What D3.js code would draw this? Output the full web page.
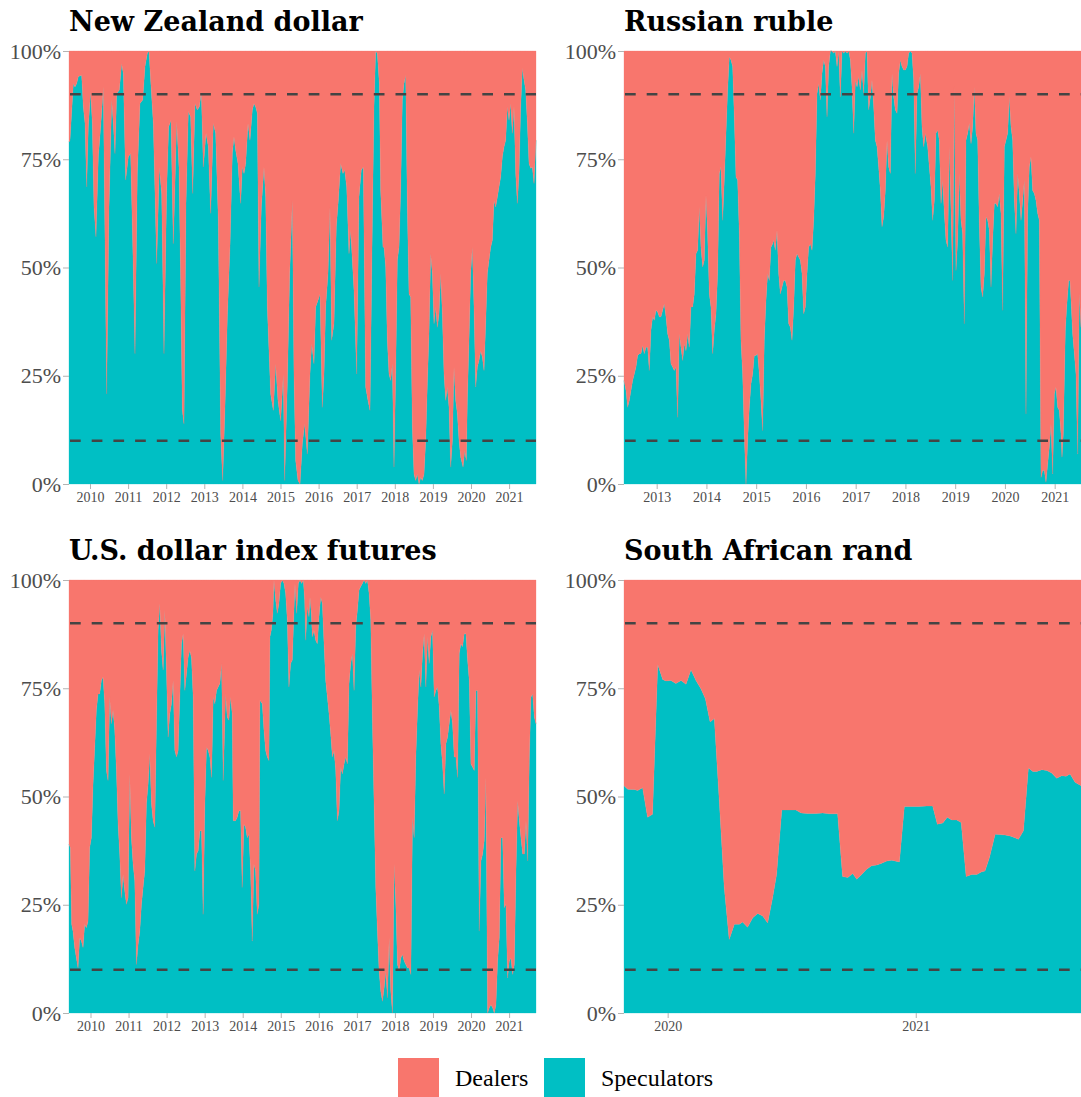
<!DOCTYPE html>
<html>
<head>
<meta charset="utf-8">
<script src="https://cdn.jsdelivr.net/npm/d3@7"></script>
<style>
body { margin: 0; background: #fff; }
</style>
</head>
<body>
<div id="chart"></div>
<script>
var width = 1081;
var height = 1097;
var dealerColor = "#F8766D";
var specColor = "#00BFC4";
var keys = ["Speculators", "Dealers"];
var legendKeys = ["Dealers", "Speculators"];
var bands = [0.1, 0.9];
var yTicks = [0, 0.25, 0.5, 0.75, 1];

// [year, speculators share]; dealers are the rest
var nzd = [[2009.449,0.79],[2009.475,0.794],[2009.563,0.925],[2009.606,0.917],[2009.650,0.925],[2009.694,0.941],[2009.781,0.944],[2009.825,0.871],[2009.869,0.833],[2009.913,0.686],[2009.956,0.825],[2010.017,0.906],[2010.061,0.833],[2010.105,0.640],[2010.157,0.571],[2010.219,0.756],[2010.280,0.825],[2010.350,0.917],[2010.394,0.563],[2010.437,0.208],[2010.499,0.640],[2010.569,0.887],[2010.612,0.833],[2010.656,0.763],[2010.700,0.902],[2010.770,0.910],[2010.831,0.971],[2010.875,0.948],[2010.936,0.702],[2011.006,0.756],[2011.067,0.763],[2011.120,0.563],[2011.181,0.301],[2011.242,0.717],[2011.312,0.879],[2011.382,0.887],[2011.444,0.964],[2011.505,0.995],[2011.549,1.0],[2011.592,0.933],[2011.662,0.833],[2011.750,0.509],[2011.820,0.732],[2011.881,0.671],[2011.942,0.301],[2012.012,0.678],[2012.065,0.825],[2012.126,0.840],[2012.187,0.555],[2012.275,0.837],[2012.336,0.732],[2012.380,0.470],[2012.423,0.170],[2012.467,0.139],[2012.520,0.648],[2012.581,0.860],[2012.642,0.848],[2012.695,0.671],[2012.756,0.879],[2012.817,0.864],[2012.870,0.871],[2012.922,0.906],[2012.975,0.732],[2013.045,0.810],[2013.106,0.779],[2013.167,0.625],[2013.237,0.833],[2013.298,0.810],[2013.368,0.609],[2013.430,0.116],[2013.482,0.008],[2013.543,0.177],[2013.605,0.386],[2013.675,0.55],[2013.736,0.763],[2013.779,0.802],[2013.823,0.771],[2013.884,0.740],[2013.954,0.648],[2013.998,0.732],[2014.042,0.717],[2014.086,0.740],[2014.147,0.833],[2014.199,0.794],[2014.261,0.864],[2014.304,0.879],[2014.348,0.871],[2014.392,0.856],[2014.436,0.455],[2014.497,0.640],[2014.567,0.732],[2014.611,0.663],[2014.654,0.409],[2014.742,0.208],[2014.812,0.170],[2014.873,0.278],[2014.934,0.193],[2015.004,0.146],[2015.074,0.254],[2015.109,0.008],[2015.179,0.231],[2015.241,0.486],[2015.311,0.655],[2015.354,0.254],[2015.398,0.054],[2015.459,0.008],[2015.512,0.0],[2015.573,0.093],[2015.634,0.139],[2015.704,0.069],[2015.774,0.254],[2015.818,0.324],[2015.879,0.278],[2015.923,0.409],[2015.984,0.424],[2016.037,0.439],[2016.098,0.177],[2016.142,0.254],[2016.185,0.409],[2016.247,0.486],[2016.299,0.640],[2016.343,0.332],[2016.404,0.370],[2016.465,0.594],[2016.518,0.655],[2016.579,0.740],[2016.640,0.717],[2016.684,0.725],[2016.737,0.686],[2016.798,0.532],[2016.842,0.586],[2016.929,0.447],[2016.999,0.254],[2017.060,0.663],[2017.121,0.725],[2017.174,0.732],[2017.235,0.224],[2017.296,0.193],[2017.349,0.170],[2017.410,0.601],[2017.454,0.871],[2017.498,1.0],[2017.541,0.995],[2017.594,0.925],[2017.629,0.678],[2017.690,0.547],[2017.717,0.547],[2017.761,0.501],[2017.804,0.332],[2017.848,0.254],[2017.892,0.239],[2017.936,0.278],[2017.979,0.039],[2018.023,0.254],[2018.067,0.517],[2018.111,0.547],[2018.154,0.678],[2018.198,0.887],[2018.242,0.925],[2018.286,0.944],[2018.329,0.640],[2018.373,0.439],[2018.417,0.432],[2018.461,0.131],[2018.504,0.023],[2018.548,0.008],[2018.592,0.023],[2018.636,0.0],[2018.679,0.015],[2018.723,0.008],[2018.767,0.023],[2018.811,0.100],[2018.854,0.231],[2018.898,0.347],[2018.942,0.532],[2018.986,0.486],[2019.029,0.370],[2019.073,0.409],[2019.117,0.362],[2019.161,0.393],[2019.204,0.486],[2019.248,0.393],[2019.292,0.254],[2019.336,0.193],[2019.379,0.224],[2019.423,0.177],[2019.467,0.039],[2019.511,0.100],[2019.554,0.270],[2019.598,0.193],[2019.642,0.162],[2019.686,0.100],[2019.729,0.062],[2019.791,0.039],[2019.834,0.077],[2019.878,0.054],[2019.904,0.193],[2019.948,0.332],[2019.992,0.486],[2020.035,0.547],[2020.079,0.409],[2020.123,0.224],[2020.167,0.270],[2020.210,0.285],[2020.254,0.308],[2020.298,0.293],[2020.342,0.262],[2020.385,0.370],[2020.429,0.486],[2020.473,0.517],[2020.517,0.547],[2020.560,0.563],[2020.604,0.655],[2020.648,0.640],[2020.692,0.663],[2020.735,0.686],[2020.779,0.709],[2020.823,0.756],[2020.867,0.779],[2020.910,0.794],[2020.954,0.871],[2020.998,0.840],[2021.041,0.879],[2021.085,0.810],[2021.129,0.871],[2021.173,0.717],[2021.217,0.648],[2021.260,0.717],[2021.304,0.871],[2021.348,0.960],[2021.392,0.933],[2021.435,0.910],[2021.479,0.833],[2021.523,0.740],[2021.567,0.729],[2021.610,0.732],[2021.654,0.694],[2021.706,0.794]];

var rub = [[2012.343,0.239],[2012.383,0.216],[2012.416,0.177],[2012.450,0.193],[2012.483,0.216],[2012.517,0.239],[2012.550,0.254],[2012.584,0.270],[2012.617,0.297],[2012.651,0.301],[2012.684,0.301],[2012.718,0.320],[2012.751,0.301],[2012.785,0.316],[2012.818,0.316],[2012.852,0.262],[2012.885,0.355],[2012.919,0.386],[2012.952,0.378],[2012.986,0.401],[2013.019,0.397],[2013.053,0.386],[2013.086,0.386],[2013.120,0.401],[2013.153,0.416],[2013.187,0.386],[2013.220,0.347],[2013.254,0.332],[2013.287,0.278],[2013.321,0.270],[2013.354,0.262],[2013.388,0.270],[2013.421,0.154],[2013.455,0.347],[2013.488,0.316],[2013.522,0.285],[2013.555,0.324],[2013.589,0.308],[2013.622,0.347],[2013.656,0.316],[2013.689,0.409],[2013.723,0.409],[2013.756,0.439],[2013.790,0.532],[2013.823,0.540],[2013.857,0.640],[2013.890,0.547],[2013.924,0.501],[2013.957,0.517],[2013.991,0.667],[2014.024,0.578],[2014.058,0.439],[2014.091,0.409],[2014.125,0.301],[2014.158,0.355],[2014.192,0.393],[2014.225,0.486],[2014.259,0.717],[2014.292,0.732],[2014.326,0.609],[2014.359,0.702],[2014.393,0.810],[2014.426,0.910],[2014.460,0.987],[2014.493,0.979],[2014.527,0.964],[2014.560,0.848],[2014.594,0.709],[2014.627,0.702],[2014.661,0.578],[2014.694,0.332],[2014.728,0.254],[2014.761,0.116],[2014.795,0.0],[2014.828,0.100],[2014.862,0.177],[2014.895,0.231],[2014.929,0.254],[2014.962,0.297],[2014.996,0.297],[2015.029,0.301],[2015.063,0.254],[2015.096,0.193],[2015.130,0.123],[2015.163,0.332],[2015.197,0.424],[2015.230,0.486],[2015.264,0.470],[2015.297,0.547],[2015.331,0.555],[2015.352,0.563],[2015.385,0.540],[2015.419,0.586],[2015.452,0.486],[2015.486,0.439],[2015.519,0.455],[2015.552,0.470],[2015.586,0.470],[2015.620,0.455],[2015.653,0.370],[2015.687,0.362],[2015.720,0.332],[2015.754,0.409],[2015.787,0.517],[2015.821,0.532],[2015.854,0.524],[2015.888,0.517],[2015.921,0.486],[2015.955,0.393],[2015.988,0.409],[2016.022,0.486],[2016.055,0.547],[2016.089,0.555],[2016.122,0.540],[2016.156,0.609],[2016.189,0.717],[2016.223,0.902],[2016.256,0.925],[2016.290,0.887],[2016.323,0.948],[2016.357,0.979],[2016.390,0.964],[2016.424,0.848],[2016.457,0.964],[2016.491,1.0],[2016.524,1.0],[2016.558,0.995],[2016.591,1.0],[2016.625,0.964],[2016.658,1.0],[2016.692,0.894],[2016.725,1.0],[2016.759,0.995],[2016.792,1.0],[2016.826,0.995],[2016.859,1.0],[2016.893,0.979],[2016.926,0.917],[2016.960,0.810],[2016.993,0.933],[2017.027,0.917],[2017.060,0.941],[2017.094,0.910],[2017.127,0.956],[2017.161,0.902],[2017.194,0.995],[2017.228,1.0],[2017.261,0.864],[2017.295,0.894],[2017.328,0.933],[2017.362,0.871],[2017.395,0.794],[2017.429,0.779],[2017.462,0.732],[2017.496,0.678],[2017.529,0.594],[2017.563,0.617],[2017.596,0.678],[2017.630,0.794],[2017.663,0.732],[2017.697,0.717],[2017.730,0.948],[2017.764,0.894],[2017.797,0.864],[2017.831,0.856],[2017.864,0.948],[2017.898,0.979],[2017.931,0.964],[2017.965,0.956],[2017.998,0.956],[2018.032,0.964],[2018.065,0.995],[2018.099,1.0],[2018.132,0.995],[2018.166,0.933],[2018.199,0.717],[2018.233,0.902],[2018.266,0.917],[2018.300,0.948],[2018.333,0.825],[2018.367,0.779],[2018.400,0.810],[2018.447,0.779],[2018.480,0.732],[2018.514,0.686],[2018.547,0.609],[2018.581,0.655],[2018.614,0.810],[2018.648,0.817],[2018.681,0.794],[2018.715,0.648],[2018.748,0.702],[2018.782,0.625],[2018.815,0.563],[2018.849,0.547],[2018.882,0.779],[2018.916,0.632],[2018.949,0.470],[2018.983,0.917],[2019.016,0.493],[2019.050,0.563],[2019.083,0.717],[2019.117,0.609],[2019.150,0.578],[2019.184,0.370],[2019.217,0.794],[2019.251,0.810],[2019.284,0.833],[2019.318,0.786],[2019.351,0.825],[2019.385,0.917],[2019.418,0.810],[2019.452,0.794],[2019.485,0.601],[2019.519,0.455],[2019.552,0.432],[2019.586,0.486],[2019.619,0.617],[2019.653,0.609],[2019.686,0.586],[2019.720,0.455],[2019.753,0.563],[2019.787,0.648],[2019.820,0.648],[2019.854,0.640],[2019.887,0.671],[2019.921,0.625],[2019.954,0.401],[2019.988,0.779],[2020.021,0.794],[2020.055,0.810],[2020.088,0.894],[2020.122,0.825],[2020.155,0.794],[2020.189,0.655],[2020.222,0.578],[2020.256,0.717],[2020.289,0.671],[2020.323,0.609],[2020.356,0.655],[2020.390,0.702],[2020.423,0.162],[2020.457,0.625],[2020.490,0.732],[2020.524,0.756],[2020.557,0.678],[2020.591,0.671],[2020.624,0.655],[2020.658,0.625],[2020.691,0.609],[2020.725,0.015],[2020.758,0.031],[2020.792,0.031],[2020.825,0.004],[2020.859,0.046],[2020.892,0.085],[2020.926,0.139],[2020.959,0.023],[2020.993,0.208],[2021.026,0.224],[2021.060,0.177],[2021.093,0.170],[2021.127,0.116],[2021.147,0.062],[2021.173,0.116],[2021.214,0.355],[2021.241,0.409],[2021.281,0.470],[2021.308,0.470],[2021.335,0.409],[2021.361,0.347],[2021.395,0.301],[2021.428,0.254],[2021.462,0.069],[2021.495,0.439],[2021.529,0.362]];

var dxy = [[2009.435,0.390],[2009.470,0.382],[2009.505,0.205],[2009.540,0.189],[2009.584,0.151],[2009.628,0.127],[2009.672,0.104],[2009.716,0.174],[2009.760,0.166],[2009.804,0.151],[2009.847,0.205],[2009.891,0.197],[2009.935,0.212],[2009.979,0.382],[2010.023,0.405],[2010.067,0.529],[2010.111,0.614],[2010.154,0.699],[2010.198,0.737],[2010.242,0.737],[2010.286,0.768],[2010.330,0.776],[2010.374,0.714],[2010.418,0.560],[2010.461,0.537],[2010.505,0.730],[2010.549,0.668],[2010.593,0.699],[2010.637,0.653],[2010.681,0.560],[2010.725,0.436],[2010.768,0.367],[2010.812,0.266],[2010.856,0.320],[2010.900,0.282],[2010.944,0.251],[2010.988,0.266],[2011.032,0.552],[2011.075,0.405],[2011.119,0.344],[2011.163,0.305],[2011.207,0.112],[2011.251,0.158],[2011.295,0.189],[2011.339,0.251],[2011.382,0.290],[2011.426,0.328],[2011.470,0.483],[2011.514,0.529],[2011.558,0.598],[2011.602,0.483],[2011.646,0.444],[2011.689,0.429],[2011.733,0.668],[2011.777,0.884],[2011.821,0.946],[2011.865,0.838],[2011.909,0.792],[2011.953,0.931],[2011.996,0.792],[2012.040,0.637],[2012.084,0.691],[2012.128,0.714],[2012.172,0.768],[2012.216,0.606],[2012.260,0.591],[2012.303,0.606],[2012.347,0.730],[2012.391,0.853],[2012.435,0.876],[2012.479,0.745],[2012.523,0.784],[2012.567,0.822],[2012.610,0.838],[2012.654,0.819],[2012.698,0.730],[2012.742,0.328],[2012.786,0.367],[2012.830,0.375],[2012.874,0.421],[2012.917,0.421],[2012.961,0.228],[2013.005,0.483],[2013.049,0.614],[2013.093,0.606],[2013.137,0.591],[2013.181,0.544],[2013.225,0.730],[2013.268,0.714],[2013.312,0.745],[2013.356,0.753],[2013.400,0.761],[2013.444,0.807],[2013.488,0.537],[2013.549,0.737],[2013.593,0.683],[2013.637,0.676],[2013.680,0.730],[2013.724,0.691],[2013.751,0.444],[2013.812,0.444],[2013.856,0.452],[2013.900,0.467],[2013.944,0.467],[2013.987,0.290],[2014.031,0.436],[2014.075,0.429],[2014.119,0.405],[2014.163,0.413],[2014.207,0.328],[2014.251,0.166],[2014.294,0.344],[2014.338,0.328],[2014.382,0.228],[2014.426,0.251],[2014.452,0.722],[2014.514,0.714],[2014.558,0.653],[2014.602,0.606],[2014.645,0.591],[2014.689,0.583],[2014.716,0.869],[2014.751,0.884],[2014.794,0.923],[2014.821,1.0],[2014.865,0.954],[2014.909,0.923],[2014.952,0.946],[2014.996,0.992],[2015.040,1.0],[2015.084,0.992],[2015.128,0.969],[2015.172,0.907],[2015.215,0.753],[2015.259,0.807],[2015.303,0.815],[2015.347,0.931],[2015.373,0.992],[2015.417,0.923],[2015.461,0.992],[2015.505,1.0],[2015.549,0.992],[2015.593,1.0],[2015.628,0.954],[2015.654,0.861],[2015.698,0.938],[2015.742,0.915],[2015.768,0.961],[2015.803,0.923],[2015.829,0.869],[2015.873,0.884],[2015.917,0.861],[2015.961,0.853],[2016.005,0.915],[2016.049,0.961],[2016.093,0.946],[2016.137,0.853],[2016.180,0.768],[2016.224,0.730],[2016.268,0.691],[2016.312,0.645],[2016.356,0.591],[2016.400,0.606],[2016.444,0.560],[2016.487,0.444],[2016.531,0.467],[2016.575,0.568],[2016.619,0.552],[2016.663,0.575],[2016.707,0.591],[2016.751,0.575],[2016.794,0.761],[2016.838,0.807],[2016.882,0.830],[2016.926,0.745],[2016.970,0.892],[2017.014,0.931],[2017.058,0.977],[2017.101,0.985],[2017.145,0.992],[2017.189,1.0],[2017.233,0.992],[2017.277,1.0],[2017.321,0.969],[2017.365,0.907],[2017.408,0.676],[2017.452,0.483],[2017.496,0.290],[2017.540,0.189],[2017.584,0.097],[2017.628,0.050],[2017.672,0.027],[2017.716,0.058],[2017.760,0.097],[2017.804,0.035],[2017.848,0.174],[2017.891,0.050],[2017.935,0.0],[2017.979,0.344],[2018.023,0.251],[2018.067,0.112],[2018.111,0.097],[2018.155,0.127],[2018.198,0.135],[2018.242,0.120],[2018.286,0.112],[2018.330,0.104],[2018.374,0.104],[2018.418,0.089],[2018.462,0.452],[2018.505,0.405],[2018.549,0.591],[2018.593,0.699],[2018.637,0.792],[2018.681,0.753],[2018.725,0.830],[2018.769,0.876],[2018.812,0.753],[2018.856,0.869],[2018.900,0.807],[2018.944,0.869],[2018.988,0.884],[2019.032,0.730],[2019.076,0.745],[2019.119,0.753],[2019.163,0.707],[2019.207,0.622],[2019.251,0.575],[2019.295,0.506],[2019.339,0.622],[2019.383,0.637],[2019.426,0.668],[2019.470,0.699],[2019.514,0.668],[2019.558,0.591],[2019.602,0.591],[2019.646,0.544],[2019.690,0.830],[2019.733,0.853],[2019.777,0.846],[2019.821,0.876],[2019.865,0.876],[2019.909,0.815],[2019.953,0.768],[2019.997,0.575],[2020.040,0.568],[2020.084,0.560],[2020.128,0.745],[2020.172,0.745],[2020.216,0.189],[2020.260,0.351],[2020.304,0.367],[2020.347,0.398],[2020.391,0.544],[2020.435,0.0],[2020.479,0.012],[2020.523,0.019],[2020.567,0.012],[2020.611,0.0],[2020.654,0.019],[2020.698,0.120],[2020.742,0.174],[2020.786,0.405],[2020.830,0.405],[2020.874,0.243],[2020.918,0.251],[2020.961,0.081],[2021.005,0.120],[2021.049,0.127],[2021.093,0.089],[2021.137,0.112],[2021.181,0.328],[2021.225,0.490],[2021.268,0.444],[2021.312,0.405],[2021.356,0.367],[2021.400,0.367],[2021.444,0.444],[2021.488,0.351],[2021.532,0.591],[2021.575,0.730],[2021.619,0.737],[2021.663,0.683],[2021.707,0.668]];

var zar = [[2019.824,0.525],[2019.839,0.517],[2019.853,0.516],[2019.865,0.516],[2019.879,0.514],[2019.899,0.520],[2019.919,0.452],[2019.939,0.459],[2019.960,0.805],[2019.980,0.770],[2019.993,0.767],[2020.013,0.768],[2020.033,0.761],[2020.054,0.768],[2020.074,0.759],[2020.094,0.793],[2020.114,0.768],[2020.134,0.749],[2020.152,0.726],[2020.171,0.672],[2020.188,0.680],[2020.208,0.490],[2020.228,0.290],[2020.248,0.170],[2020.269,0.205],[2020.289,0.205],[2020.302,0.210],[2020.322,0.198],[2020.343,0.220],[2020.363,0.230],[2020.383,0.224],[2020.403,0.208],[2020.423,0.266],[2020.439,0.320],[2020.460,0.469],[2020.480,0.469],[2020.517,0.469],[2020.538,0.462],[2020.564,0.461],[2020.598,0.461],[2020.625,0.462],[2020.652,0.460],[2020.685,0.460],[2020.705,0.315],[2020.726,0.313],[2020.746,0.322],[2020.762,0.309],[2020.782,0.320],[2020.802,0.332],[2020.822,0.340],[2020.843,0.342],[2020.863,0.346],[2020.883,0.351],[2020.903,0.353],[2020.934,0.349],[2020.954,0.477],[2020.977,0.477],[2021.011,0.477],[2021.044,0.478],[2021.068,0.478],[2021.087,0.436],[2021.109,0.439],[2021.127,0.452],[2021.145,0.446],[2021.165,0.446],[2021.183,0.440],[2021.203,0.315],[2021.226,0.320],[2021.246,0.320],[2021.266,0.326],[2021.279,0.328],[2021.297,0.359],[2021.320,0.413],[2021.340,0.412],[2021.360,0.411],[2021.380,0.409],[2021.400,0.405],[2021.414,0.401],[2021.434,0.421],[2021.454,0.566],[2021.472,0.558],[2021.488,0.558],[2021.508,0.562],[2021.528,0.560],[2021.548,0.554],[2021.568,0.542],[2021.588,0.548],[2021.606,0.547],[2021.622,0.552],[2021.642,0.533],[2021.666,0.525]];

var longYears = [2010, 2011, 2012, 2013, 2014, 2015, 2016, 2017, 2018, 2019, 2020, 2021];
var rubYears = [2013, 2014, 2015, 2016, 2017, 2018, 2019, 2020, 2021];
var zarYears = [2020, 2021];

var panels = [
    { title: "New Zealand dollar", data: nzd, years: longYears, left: 69, right: 536, top: 51, bottom: 484 },
    { title: "Russian ruble", data: rub, years: rubYears, left: 624, right: 1081, top: 51, bottom: 484 },
    { title: "U.S. dollar index futures", data: dxy, years: longYears, left: 69, right: 536, top: 580, bottom: 1013 },
    { title: "South African rand", data: zar, years: zarYears, left: 624, right: 1081, top: 580, bottom: 1013 }
];

var svg = d3.select("#chart")
            .append("svg")
            .attr("width", width)
            .attr("height", height)
            .style("font-family", "'Liberation Serif', serif");

panels.forEach(function(p) {
    var g = svg.append("g");

    var x = d3.scaleLinear()
                .domain(d3.extent(p.data, d => d[0]))
                .range([p.left, p.right]);
    var y = d3.scaleLinear()
                .domain([0, 1])
                .range([p.bottom, p.top]);

    var rows = p.data.map(d => ({ t: d[0], Speculators: d[1], Dealers: 1 - d[1] }));
    var series = d3.stack().keys(keys)(rows);

    var area = d3.area()
                .x(d => x(d.data.t))
                .y0(d => y(d[0]))
                .y1(d => y(d[1]))
                .curve(d3.curveLinear);

    g.selectAll("path.layer")
        .data(series)
        .enter()
        .append("path")
        .attr("class", "layer")
        .attr("d", area)
        .attr("fill", d => d.key == "Dealers" ? dealerColor : specColor)
        .attr("stroke", d => d.key == "Dealers" ? dealerColor : specColor)
        .attr("stroke-width", 0.3);

    // 10% / 90% reference lines
    g.selectAll("line.band")
        .data(bands)
        .enter()
        .append("line")
        .attr("x1", p.left + 1)
        .attr("x2", p.right)
        .attr("y1", d => y(d))
        .attr("y2", d => y(d))
        .attr("stroke", "#444")
        .attr("stroke-width", 2.6)
        .attr("stroke-dasharray", "10.7,11");

    var yAxis = d3.axisLeft(y)
                    .tickValues(yTicks)
                    .tickFormat(d3.format(".0%"))
                    .tickSize(6)
                    .tickPadding(2);
    var ya = g.append("g")
                .attr("transform", "translate(" + p.left + ",0)")
                .call(yAxis);
    ya.select(".domain").remove();
    ya.selectAll("line").attr("stroke", "#b3b3b3");
    ya.selectAll("text")
        .attr("fill", "#4d4d4d")
        .style("font-family", "'Liberation Serif', serif")
        .style("font-size", "22px");

    var xAxis = d3.axisBottom(x)
                    .tickValues(p.years)
                    .tickFormat(d3.format("d"))
                    .tickSize(5)
                    .tickPadding(3);
    var xa = g.append("g")
                .attr("transform", "translate(0," + p.bottom + ")")
                .call(xAxis);
    xa.select(".domain").remove();
    xa.selectAll("line").attr("stroke", "#b3b3b3");
    xa.selectAll("text")
        .attr("fill", "#4d4d4d")
        .style("font-family", "'Liberation Serif', serif")
        .style("font-size", "14px");

    g.append("text")
        .attr("x", p.left)
        .attr("y", p.top - 20)
        .text(p.title)
        .attr("fill", "#000")
        .style("font-family", "'DejaVu Serif', serif")
        .style("font-weight", "bold")
        .style("font-size", "27px");
});

// legend
var legendX = [398, 544];
var legend = svg.append("g");
legendKeys.forEach(function(k, i) {
    legend.append("rect")
        .attr("x", legendX[i])
        .attr("y", 1058)
        .attr("width", 41)
        .attr("height", 41)
        .attr("fill", k == "Dealers" ? dealerColor : specColor);
    legend.append("text")
        .attr("x", legendX[i] + 57)
        .attr("y", 1086)
        .text(k)
        .attr("fill", "#000")
        .style("font-size", "24px");
});
</script>
</body>
</html>
